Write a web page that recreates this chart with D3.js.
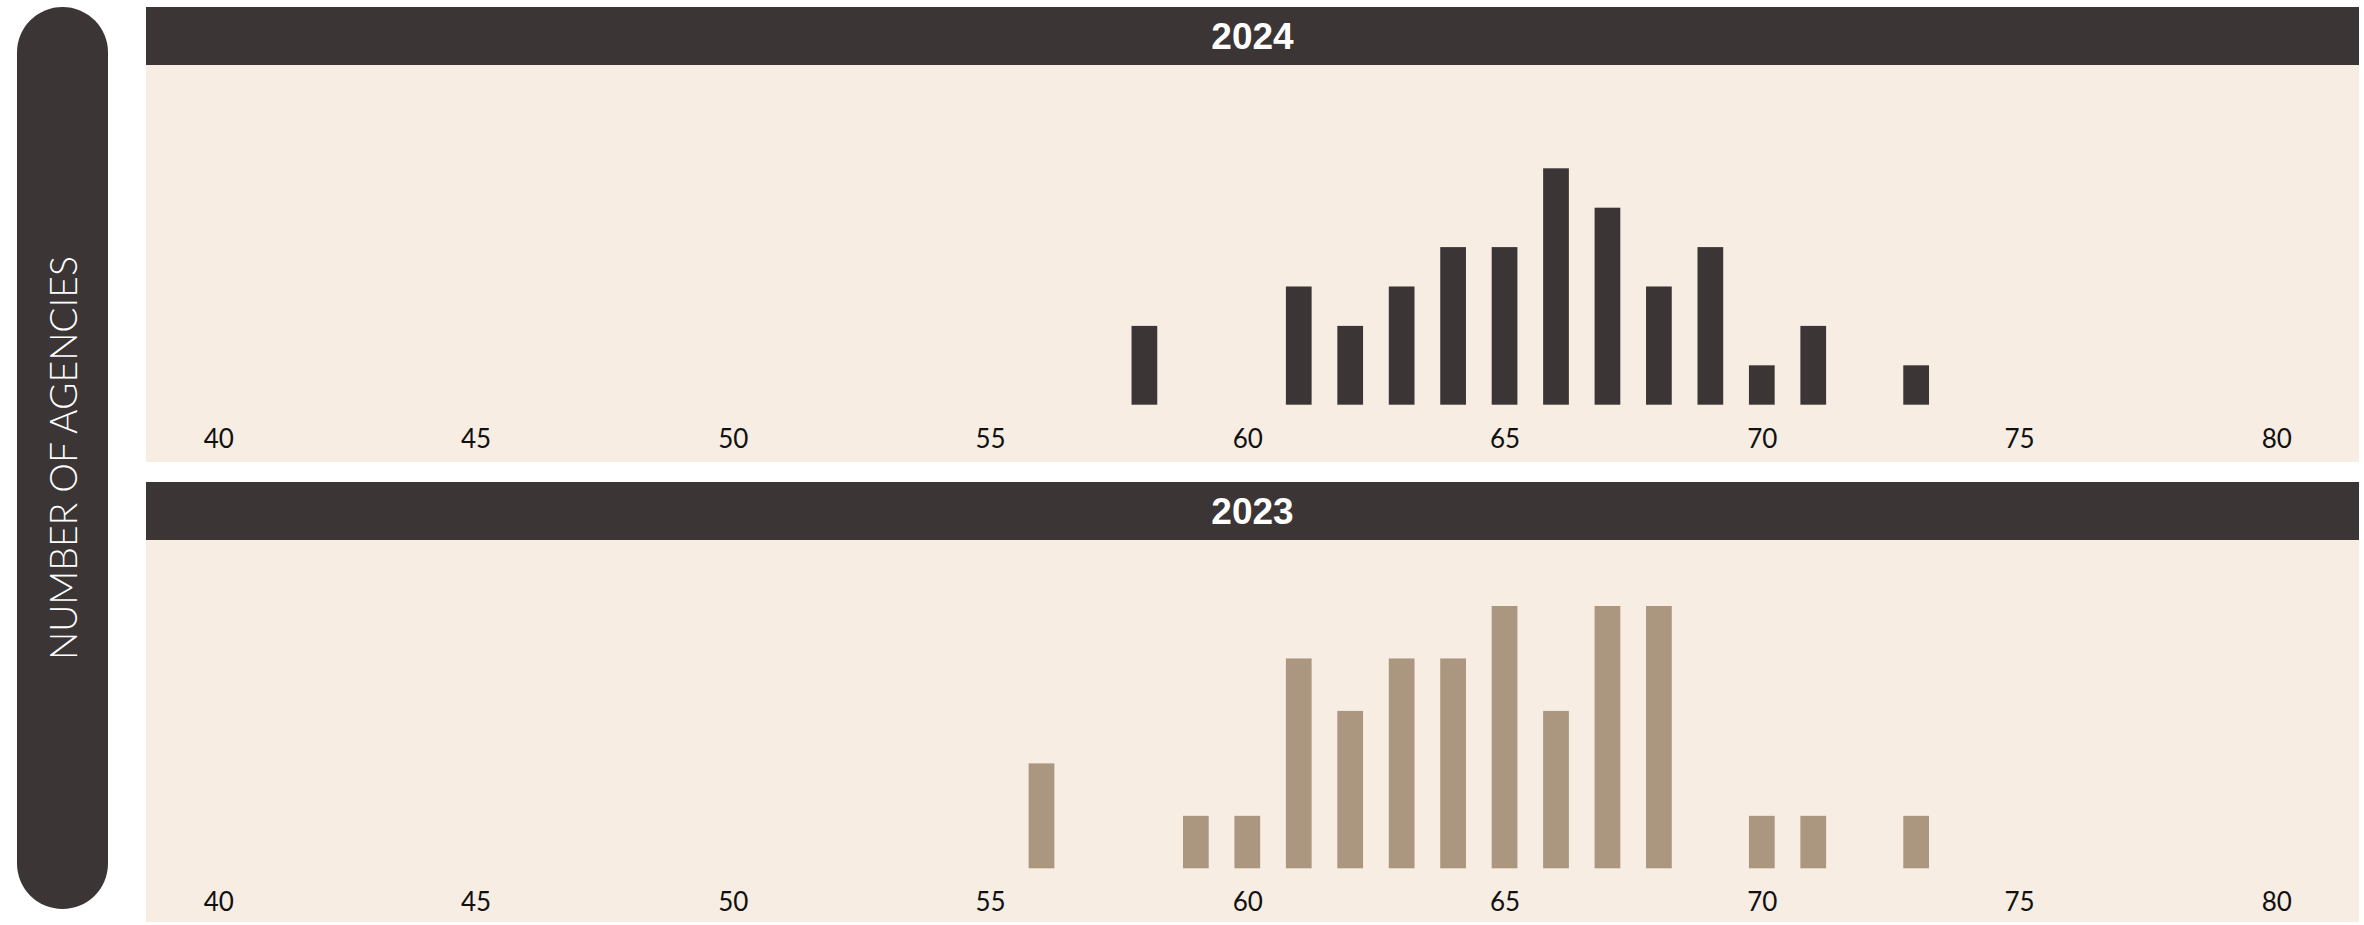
<!DOCTYPE html>
<html>
<head>
<meta charset="utf-8">
<script src="https://cdn.jsdelivr.net/npm/d3@7"></script>
<style>
  html, body { margin: 0; padding: 0; background: #ffffff; }
  svg { display: block; }
</style>
</head>
<body>
<div id="chart"></div>
<script>
// Distribution of agency scores, one facet per year
const years = ["2024", "2023"];

const scores2024 = [58, 61, 62, 63, 64, 65, 66, 67, 68, 69, 70, 71, 73];
const counts2024 = [2, 3, 2, 3, 4, 4, 6, 5, 3, 4, 1, 2, 1];

const scores2023 = [56, 59, 60, 61, 62, 63, 64, 65, 66, 67, 68, 70, 71, 73];
const counts2023 = [2, 1, 1, 4, 3, 4, 4, 5, 3, 5, 5, 1, 1, 1];

const xTickValues = [40, 45, 50, 55, 60, 65, 70, 75, 80];
const yAxisTitle = "NUMBER OF AGENCIES";

// Colours
const DARK = "#3b3535";
const PANEL = "#f7ede3";
const BAR_2024 = "#3b3535";
const BAR_2023 = "#ab9680";

const W = 2364, H = 925;

const svg = d3.select("#chart").append("svg")
  .attr("width", W).attr("height", H);

// Shared x scale (score)
const x = d3.scaleLinear().domain([40, 80]).range([218.3, 2276.3]);
const barW = x(40.5) - x(40);

// Facet layout
const facets = [
  { label: years[0], scores: scores2024, counts: counts2024, color: BAR_2024,
    headTop: 7, headBottom: 65, bodyBottom: 462, base: 404.7, peak: 168.3 },
  { label: years[1], scores: scores2023, counts: counts2023, color: BAR_2023,
    headTop: 482, headBottom: 540, bodyBottom: 922, base: 868.3, peak: 606 }
];

const panelLeft = 146, panelRight = 2359;

facets.forEach(f => {
  const g = svg.append("g");

  // panel background
  g.append("rect")
    .attr("x", panelLeft).attr("y", f.headBottom)
    .attr("width", panelRight - panelLeft).attr("height", f.bodyBottom - f.headBottom)
    .attr("fill", PANEL);

  // strip header
  g.append("rect")
    .attr("x", panelLeft).attr("y", f.headTop)
    .attr("width", panelRight - panelLeft).attr("height", f.headBottom - f.headTop)
    .attr("fill", DARK);

  g.append("text")
    .attr("x", (panelLeft + panelRight) / 2)
    .attr("y", (f.headTop + f.headBottom) / 2)
    .attr("dy", "0.36em")
    .attr("text-anchor", "middle")
    .attr("fill", "#ffffff")
    .attr("font-family", "'Liberation Sans', Arial, sans-serif")
    .attr("font-weight", 700)
    .attr("font-size", 37)
    .text(f.label);

  const y = d3.scaleLinear()
    .domain([0, d3.max(f.counts)])
    .range([f.base, f.peak]);

  const data = f.scores.map((s, i) => ({ score: s, count: f.counts[i] }));

  g.selectAll("rect.bar")
    .data(data)
    .join("rect")
    .attr("class", "bar")
    .attr("x", d => x(d.score) - barW / 2)
    .attr("y", d => y(d.count))
    .attr("width", barW)
    .attr("height", d => y(0) - y(d.count))
    .attr("fill", f.color);

  // x axis labels
  const axis = d3.axisBottom(x).tickValues(xTickValues).tickSize(0).tickFormat(d3.format("d"));
  const ag = g.append("g")
    .attr("transform", `translate(0,${f.base})`)
    .call(axis);
  ag.select(".domain").remove();
  ag.selectAll(".tick text")
    .attr("y", 43)
    .attr("dy", 0)
    .attr("fill", "#111111")
    .attr("font-family", "Lato, 'Noto Sans', sans-serif")
    .attr("font-weight", 400)
    .attr("font-size", 26);
});

// y-axis title pill
const pill = { x: 17, y: 7, w: 91, h: 902 };
svg.append("rect")
  .attr("x", pill.x).attr("y", pill.y)
  .attr("width", pill.w).attr("height", pill.h)
  .attr("rx", pill.w / 2).attr("ry", pill.w / 2)
  .attr("fill", DARK);

svg.append("text")
  .attr("transform", `translate(${pill.x + pill.w / 2 + 1},${pill.y + pill.h / 2}) rotate(-90)`)
  .attr("text-anchor", "middle")
  .attr("dy", "0.36em")
  .attr("fill", "#ffffff")
  .attr("font-family", "Lato, 'Noto Sans', sans-serif")
  .attr("font-weight", 300)
  .attr("font-size", 38)
  .attr("textLength", 404)
  .attr("lengthAdjust", "spacingAndGlyphs")
  .text(yAxisTitle);
</script>
</body>
</html>
